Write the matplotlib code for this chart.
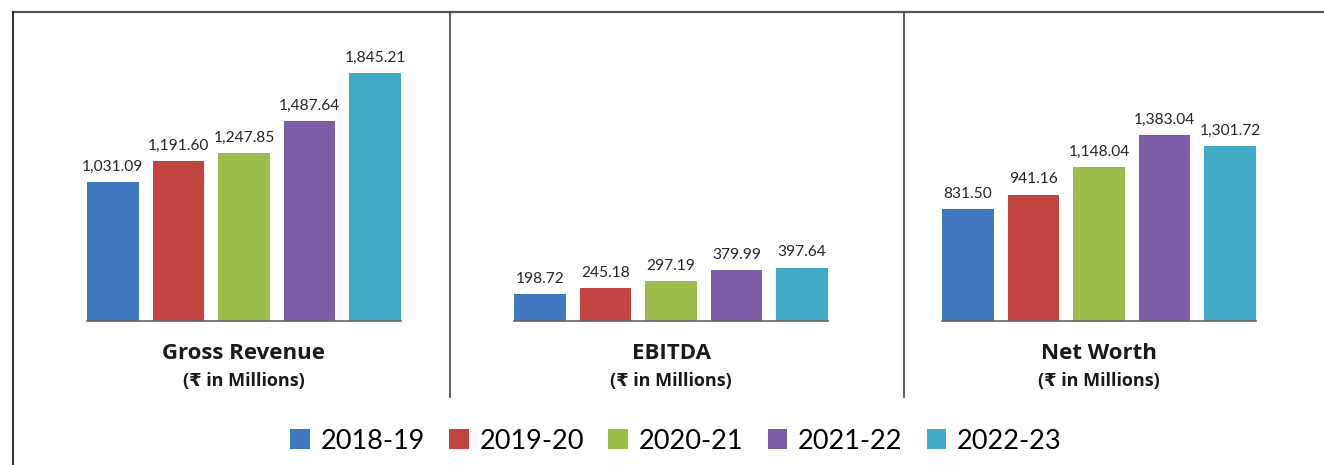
import numpy as np
import matplotlib
matplotlib.use("Agg")
import matplotlib.pyplot as plt
from matplotlib.patches import Patch
from matplotlib.lines import Line2D

years = ["2018-19", "2019-20", "2020-21", "2021-22", "2022-23"]
colors = ["#3f78bf", "#c0443f", "#9bbb4b", "#7b5ea6", "#3fa9c6"]

titles = ["Gross Revenue", "EBITDA", "Net Worth"]
subtitle = "(\u20b9 in Millions)"
gross_revenue = [1031.09, 1191.60, 1247.85, 1487.64, 1845.21]
ebitda = [198.72, 245.18, 297.19, 379.99, 397.64]
net_worth = [831.50, 941.16, 1148.04, 1383.04, 1301.72]
panels = [gross_revenue, ebitda, net_worth]

W, H = 1324, 465
fig = plt.figure(figsize=(W / 100, H / 100), dpi=100)

label_font = ["Lato", "DejaVu Sans"]
title_font = ["Open Sans", "DejaVu Sans"]

lefts = [87, 514, 942]
panel_w = 314
base_y = 321
ymax = 2000
px_per_unit = 0.1344
top_y = base_y - ymax * px_per_unit
width = 0.786

for i, (vals, title) in enumerate(zip(panels, titles)):
    ax = fig.add_axes([lefts[i] / W, (H - base_y) / H, panel_w / W, (base_y - top_y) / H])
    x = np.arange(len(vals))
    ax.bar(x, vals, width=width, color=colors)
    for xi, v in zip(x, vals):
        ax.text(xi, v + 60, f"{v:,.2f}", ha="center", va="bottom",
                fontsize=11.2, family=label_font, color="#262626")
    ax.set_xlim(-width / 2, len(vals) - 1 + width / 2)
    ax.set_ylim(0, ymax)
    for s in ["top", "right", "left"]:
        ax.spines[s].set_visible(False)
    ax.spines["bottom"].set_color("#666666")
    ax.spines["bottom"].set_linewidth(1.2)
    ax.set_xticks([])
    ax.set_yticks([])
    ax.patch.set_alpha(0)
    cx = (lefts[i] + panel_w / 2) / W
    fig.text(cx, 1 - 353 / H, title, ha="center", va="center",
             fontsize=16, fontweight="bold", family=title_font, color="#1a1a1a")
    fig.text(cx, 1 - 381 / H, subtitle, ha="center", va="center",
             fontsize=13, fontweight="bold", family=title_font, color="#1a1a1a")

# frame lines
fig.add_artist(Line2D([12.5 / W, 1], [1 - 12 / H, 1 - 12 / H], color="#555555", lw=1.6))
fig.add_artist(Line2D([12.5 / W, 12.5 / W], [0, 1 - 12 / H], color="#222222", lw=1.3))
for sx in [450, 904]:
    fig.add_artist(Line2D([sx / W, sx / W], [1 - 397 / H, 1 - 12 / H], color="#444444", lw=1.2))

handles = [Patch(facecolor=c, edgecolor="none") for c in colors]
fig.legend(handles, years, loc="center", bbox_to_anchor=(676 / W, 1 - 441 / H), ncol=5,
           frameon=False, prop={"family": label_font, "size": 19.5},
           handlelength=0.72, handleheight=0.72, handletextpad=0.4, columnspacing=0.9)

fig.savefig("out.png", dpi=100)
